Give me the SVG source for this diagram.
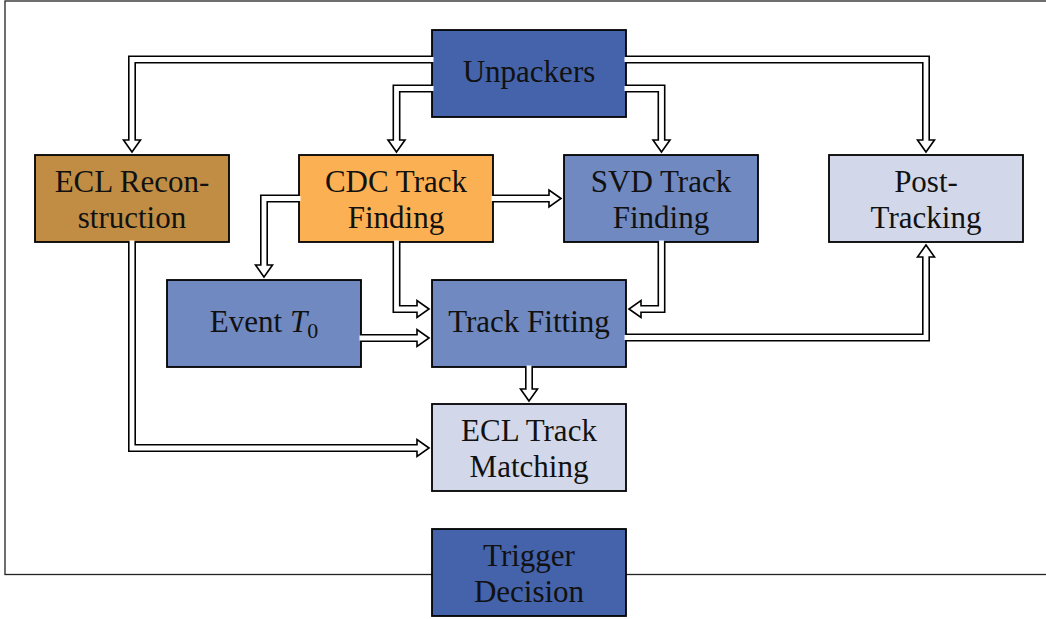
<svg xmlns="http://www.w3.org/2000/svg" xmlns:xlink="http://www.w3.org/1999/xlink" width="1046" height="619" viewBox="0 0 1046 619">
  <style>
    .frame { fill: none; stroke: #222; stroke-width: 1.3; }
    .box { stroke: #000; stroke-width: 1.8; }
    .dark { fill: #4463AA; }
    .mid { fill: #7089C0; }
    .light { fill: #D2D8EA; }
    .brown { fill: #C18D45; }
    .orange { fill: #FBB053; }
    text { font-family: "Liberation Serif", "Times New Roman", serif; font-size: 31px; fill: #111; text-anchor: middle; }
    .co { fill: none; stroke: #000; stroke-width: 8; stroke-linejoin: miter; }
    .ci { fill: none; stroke: #fff; stroke-width: 4.8; stroke-linejoin: miter; }
    .ah { fill: #fff; stroke: #000; stroke-width: 1.6; stroke-linejoin: miter; }
  </style>
  <defs>
    <!-- hollow arrowhead, tip at the origin, pointing along +x -->
    <path id="head" class="ah" d="M0,0 L-12,-8.5 L-12,8.5 Z"/>
  </defs>

  <rect class="frame" x="5" y="1" width="1100" height="573.5"/>

  <g id="unpackers">
    <rect class="box dark" x="432" y="30" width="194" height="87"/>
    <text x="529" y="82">Unpackers</text>
  </g>
  <g id="ecl-reconstruction">
    <rect class="box brown" x="35" y="155" width="194" height="87"/>
    <text x="132" y="192">ECL Recon-</text>
    <text x="132" y="228">struction</text>
  </g>
  <g id="cdc-track-finding">
    <rect class="box orange" x="299" y="155" width="194" height="87"/>
    <text x="396" y="192">CDC Track</text>
    <text x="396" y="228">Finding</text>
  </g>
  <g id="svd-track-finding">
    <rect class="box mid" x="564" y="155" width="194" height="87"/>
    <text x="661" y="192">SVD Track</text>
    <text x="661" y="228">Finding</text>
  </g>
  <g id="post-tracking">
    <rect class="box light" x="829" y="155" width="194" height="87"/>
    <text x="926" y="192">Post-</text>
    <text x="926" y="228">Tracking</text>
  </g>
  <g id="event-t0">
    <rect class="box mid" x="167" y="280" width="194" height="87"/>
    <text x="264" y="332">Event <tspan font-style="italic">T</tspan><tspan dy="6" font-size="22">0</tspan></text>
  </g>
  <g id="track-fitting">
    <rect class="box mid" x="432" y="280" width="194" height="87"/>
    <text x="529" y="332">Track Fitting</text>
  </g>
  <g id="ecl-track-matching">
    <rect class="box light" x="432" y="404" width="194" height="87"/>
    <text x="529" y="441">ECL Track</text>
    <text x="529" y="477">Matching</text>
  </g>
  <g id="trigger-decision">
    <rect class="box dark" x="432" y="529" width="194" height="87"/>
    <text x="529" y="566">Trigger</text>
    <text x="529" y="602">Decision</text>
  </g>

  <g id="connectors">
    <!-- outer strokes of the double lines -->
    <path class="co" d="M432,59.5 H132 V140"/>
    <path class="co" d="M432,88.5 H396.5 V140"/>
    <path class="co" d="M626,88.5 H661.5 V140"/>
    <path class="co" d="M626,59.5 H926 V140"/>
    <path class="co" d="M493,198.5 H549"/>
    <path class="co" d="M299,198.5 H264 V265"/>
    <path class="co" d="M396.5,242 V309 H417"/>
    <path class="co" d="M361,338 H417"/>
    <path class="co" d="M661.5,242 V309 H641"/>
    <path class="co" d="M626,337.5 H926 V257"/>
    <path class="co" d="M529,367 V389"/>
    <path class="co" d="M132,242 V448 H417"/>

    <!-- arrowheads -->
    <use xlink:href="#head" transform="translate(132,152) rotate(90)"/>
    <use xlink:href="#head" transform="translate(396.5,152) rotate(90)"/>
    <use xlink:href="#head" transform="translate(661.5,152) rotate(90)"/>
    <use xlink:href="#head" transform="translate(926,152) rotate(90)"/>
    <use xlink:href="#head" transform="translate(561,198.5)"/>
    <use xlink:href="#head" transform="translate(264,277) rotate(90)"/>
    <use xlink:href="#head" transform="translate(429,309)"/>
    <use xlink:href="#head" transform="translate(429,338)"/>
    <use xlink:href="#head" transform="translate(629,309) rotate(180)"/>
    <use xlink:href="#head" transform="translate(926,245) rotate(-90)"/>
    <use xlink:href="#head" transform="translate(529,401) rotate(90)"/>
    <use xlink:href="#head" transform="translate(429,448)"/>

    <!-- inner white channels, running into the arrowheads -->
    <path class="ci" d="M433.5,59.5 H132 V142"/>
    <path class="ci" d="M433.5,88.5 H396.5 V142"/>
    <path class="ci" d="M624.5,88.5 H661.5 V142"/>
    <path class="ci" d="M624.5,59.5 H926 V142"/>
    <path class="ci" d="M491.5,198.5 H551"/>
    <path class="ci" d="M300.5,198.5 H264 V267"/>
    <path class="ci" d="M396.5,240.5 V309 H419"/>
    <path class="ci" d="M359.5,338 H419"/>
    <path class="ci" d="M661.5,240.5 V309 H639"/>
    <path class="ci" d="M624.5,337.5 H926 V255"/>
    <path class="ci" d="M529,365.5 V391"/>
    <path class="ci" d="M132,240.5 V448 H419"/>
  </g>
</svg>
